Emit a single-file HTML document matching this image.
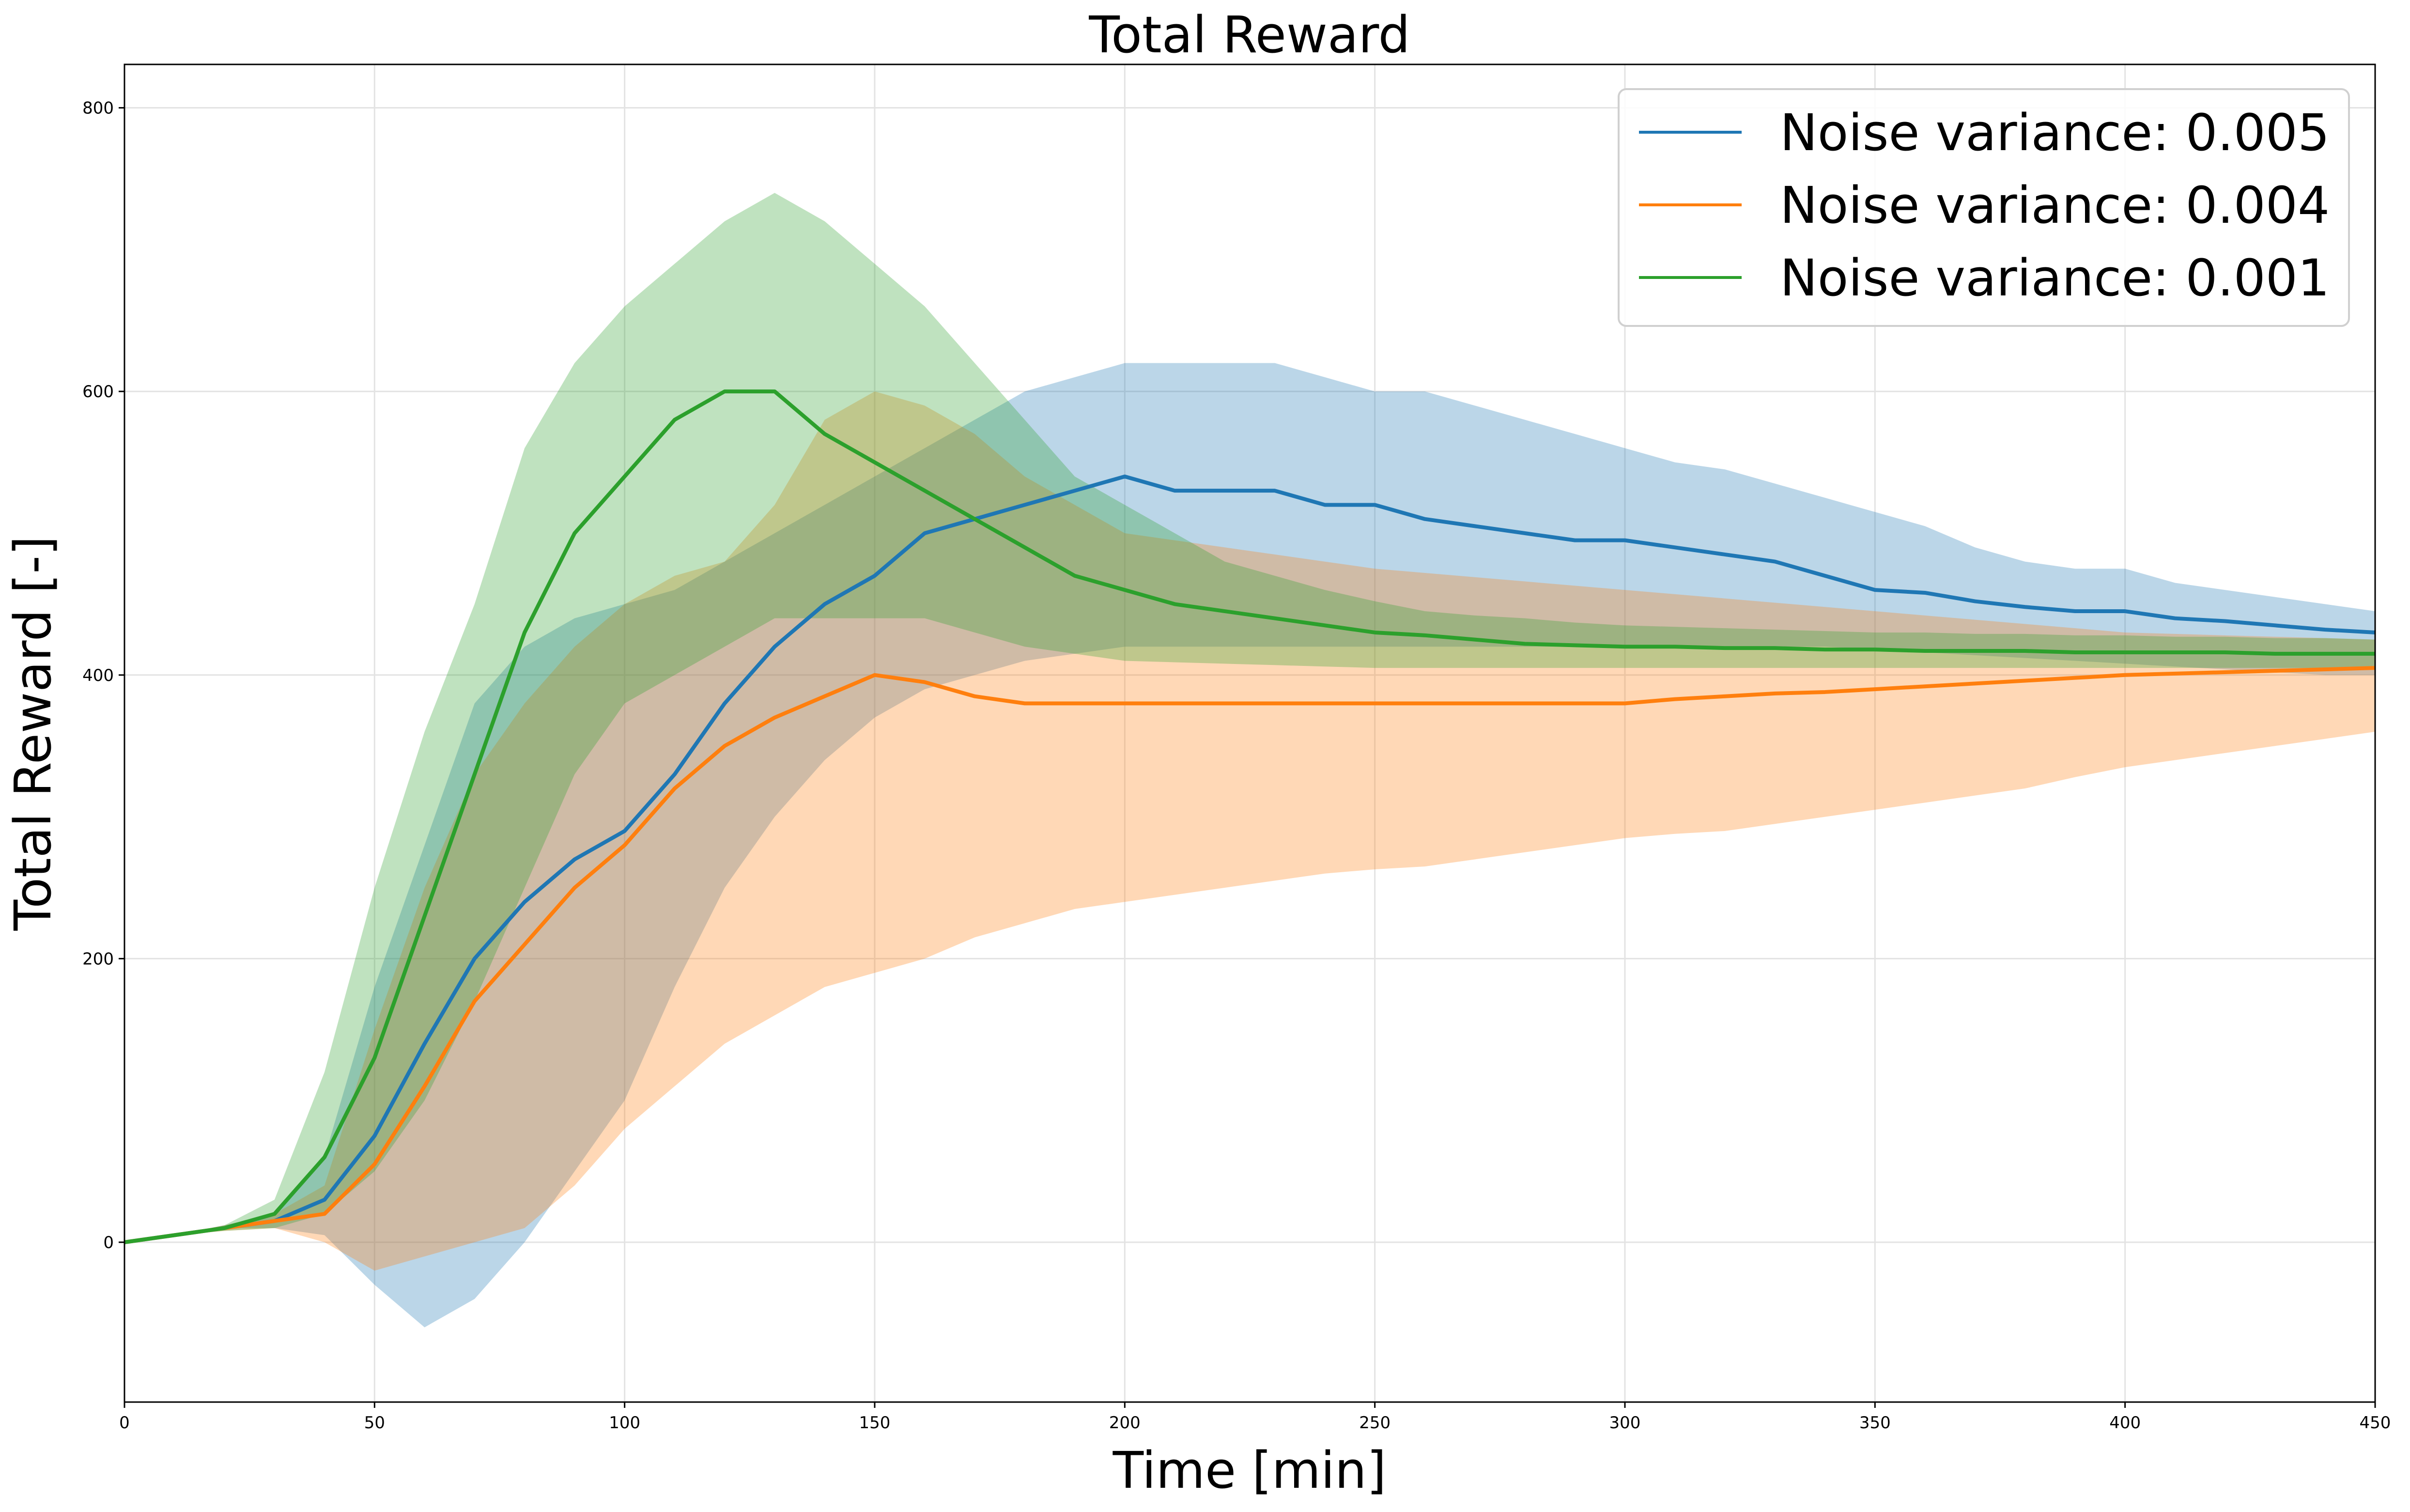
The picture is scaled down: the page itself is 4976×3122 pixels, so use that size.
<!DOCTYPE html>
<html><head><meta charset="utf-8"><style>
html,body{margin:0;padding:0;background:#fff;}
svg{display:block;font-family:"DejaVu Sans","Liberation Sans",sans-serif;}
</style></head><body>
<svg id="chart" width="4976" height="3122" viewBox="0 0 4976 3122" xmlns="http://www.w3.org/2000/svg">
<rect width="4976" height="3122" fill="#fff"/>
<g id="grid"></g>
<g id="bands"></g>
<g id="lines"></g>
<rect x="257" y="133" width="4647" height="2762" fill="none" stroke="#000" stroke-width="3"/>
<g id="ticks"></g>
<text x="2580" y="108" font-size="104" text-anchor="middle">Total Reward</text>
<text x="2580" y="3072" font-size="104" text-anchor="middle">Time [min]</text>
<text transform="translate(104,1514) rotate(-90)" font-size="104" text-anchor="middle">Total Reward [-]</text>
<g>
<rect x="3342" y="184" width="1508" height="489" rx="16" fill="#fff" fill-opacity="0.85" stroke="#d0d0d0" stroke-width="4"/>
<g id="legend-items"></g>
</g>
</svg>
<script>
const times=[0,10,20,30,40,50,60,70,80,90,100,110,120,130,140,150,160,170,180,190,200,210,220,230,240,250,260,270,280,290,300,310,320,330,340,350,360,370,380,390,400,410,420,430,440,450];
const blueMean=[0,5,10,15,30,75,140,200,240,270,290,330,380,420,450,470,500,510,520,530,540,530,530,530,520,520,510,505,500,495,495,490,485,480,470,460,458,452,448,445,445,440,438,435,432,430];
const blueLo=[0,5,10,10,5,-30,-60,-40,0,50,100,180,250,300,340,370,390,400,410,415,420,420,420,420,420,420,420,420,420,420,420,420,420,420,420,418,416,414,412,410,408,406,404,402,400,400];
const blueHi=[0,5,12,20,60,180,280,380,420,440,450,460,480,500,520,540,560,580,600,610,620,620,620,620,610,600,600,590,580,570,560,550,545,535,525,515,505,490,480,475,475,465,460,455,450,445];
const orangeMean=[0,5,10,15,20,55,110,170,210,250,280,320,350,370,385,400,395,385,380,380,380,380,380,380,380,380,380,380,380,380,380,383,385,387,388,390,392,394,396,398,400,401,402,403,404,405];
const orangeLo=[0,5,8,10,0,-20,-10,0,10,40,80,110,140,160,180,190,200,215,225,235,240,245,250,255,260,263,265,270,275,280,285,288,290,295,300,305,310,315,320,328,335,340,345,350,355,360];
const orangeHi=[0,5,12,20,40,150,250,330,380,420,450,470,480,520,580,600,590,570,540,520,500,495,490,485,480,475,472,469,466,463,460,457,454,451,448,445,442,439,436,433,430,429,428,427,426,425];
const greenMean=[0,5,10,20,60,130,230,330,430,500,540,580,600,600,570,550,530,510,490,470,460,450,445,440,435,430,428,425,422,421,420,420,419,419,418,418,417,417,417,416,416,416,416,415,415,415];
const greenLo=[0,5,8,10,20,50,100,170,250,330,380,400,420,440,440,440,440,430,420,415,410,409,408,407,406,405,405,405,405,405,405,405,405,405,405,405,405,405,405,405,405,405,405,405,405,405];
const greenHi=[0,5,12,30,120,250,360,450,560,620,660,690,720,740,720,690,660,620,580,540,520,500,480,470,460,452,445,442,440,437,435,434,433,432,431,430,430,429,429,428,428,427,427,426,426,425];
const xTicks=[0,50,100,150,200,250,300,350,400,450];
const yTicks=[0,200,400,600,800];
const legendLabels=["Noise variance: 0.005","Noise variance: 0.004","Noise variance: 0.001"];

const NS="http://www.w3.org/2000/svg";
const L=257,R=4904,T=133,B=2895,XMIN=0,XMAX=450,YMIN=-112.7,YMAX=830.6;
function xs(t){return L+(t-XMIN)/(XMAX-XMIN)*(R-L);}
function ys(v){return B-(v-YMIN)/(YMAX-YMIN)*(B-T);}
function mk(tag,attrs,parent){const e=document.createElementNS(NS,tag);for(const k in attrs)e.setAttribute(k,attrs[k]);parent.appendChild(e);return e;}

const grid=document.getElementById('grid'),ticks=document.getElementById('ticks');
xTicks.forEach(t=>{
  const g=mk('line',{x1:xs(t),x2:xs(t),y1:T,y2:B,stroke:'#e3e3e3','stroke-width':3},grid);
  
  
  const tk=mk('line',{x1:xs(t),x2:xs(t),y1:B,y2:B+12,stroke:'#000','stroke-width':3},ticks);
  
  
  const tx=mk('text',{x:xs(t),y:B+54,'font-size':34,'text-anchor':'middle'},ticks);
  tx.textContent=t;
  
  
});
yTicks.forEach(v=>{
  const g=mk('line',{x1:L,x2:R,y1:ys(v),y2:ys(v),stroke:'#e3e3e3','stroke-width':3},grid);
  
  
  const tk=mk('line',{x1:L-12,x2:L,y1:ys(v),y2:ys(v),stroke:'#000','stroke-width':3},ticks);
  
  
  const tx=mk('text',{x:L-22,y:ys(v)+12,'font-size':34,'text-anchor':'end'},ticks);
  tx.textContent=v;
  
  
});

const series=[
  {name:'noise-0005',color:'#1f77b4',mean:blueMean,lo:blueLo,hi:blueHi},
  {name:'noise-0004',color:'#ff7f0e',mean:orangeMean,lo:orangeLo,hi:orangeHi},
  {name:'noise-0001',color:'#2ca02c',mean:greenMean,lo:greenLo,hi:greenHi}
];
const bands=document.getElementById('bands'),lines=document.getElementById('lines');
series.forEach(s=>{
  let d='M'+times.map((t,i)=>xs(t)+','+ys(s.hi[i])).join('L');
  for(let i=times.length-1;i>=0;i--)d+='L'+xs(times[i])+','+ys(s.lo[i]);
  const p=mk('path',{d:d+'Z',fill:s.color,'fill-opacity':0.3},bands);
  
  
});
series.forEach(s=>{
  const d='M'+times.map((t,i)=>xs(t)+','+ys(s.mean[i])).join('L');
  const p=mk('path',{d:d,fill:'none',stroke:s.color,'stroke-width':8,'stroke-linejoin':'round'},lines);
  
  
});
const li=document.getElementById('legend-items');
series.forEach((s,i)=>{
  const y=273+i*150;
  const ln=mk('line',{x1:3384,x2:3596,y1:y,y2:y,stroke:s.color,'stroke-width':6},li);
  
  
  const tx=mk('text',{x:3675,y:y+37,'font-size':104},li);
  tx.textContent=legendLabels[i];
  
  
});
</script>
</body></html>
